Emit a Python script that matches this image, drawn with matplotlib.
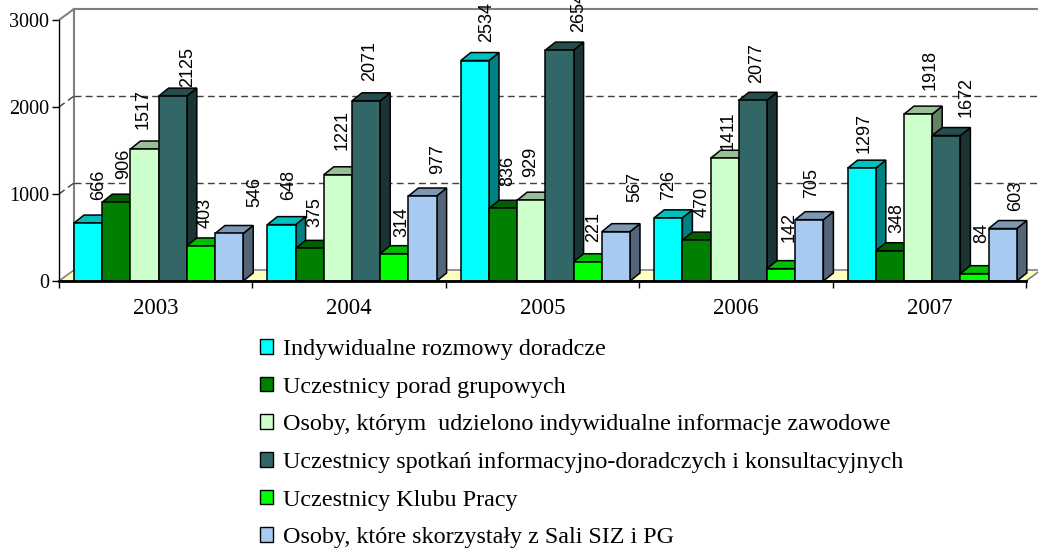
import matplotlib
matplotlib.use("Agg")
import matplotlib.pyplot as plt
from matplotlib.patches import Patch, Polygon

years = ["2003", "2004", "2005", "2006", "2007"]
series_names = [
    "Indywidualne rozmowy doradcze",
    "Uczestnicy porad grupowych",
    "Osoby, którym  udzielono indywidualne informacje zawodowe",
    "Uczestnicy spotkań informacyjno-doradczych i konsultacyjnych",
    "Uczestnicy Klubu Pracy",
    "Osoby, które skorzystały z Sali SIZ i PG",
]
rozmowy = [666, 648, 2534, 726, 1297]
porady = [906, 375, 836, 470, 348]
informacje = [1517, 1221, 929, 1411, 1918]
spotkania = [2125, 2071, 2654, 2077, 1672]
klub = [403, 314, 221, 142, 84]
sala = [546, 977, 567, 705, 603]
all_series = [rozmowy, porady, informacje, spotkania, klub, sala]

# front, top, side
colors = [
    ("#00FFFF", "#00BFBF", "#008080"),
    ("#008000", "#006000", "#004000"),
    ("#CCFFCC", "#99BF99", "#668066"),
    ("#336666", "#264D4D", "#1A3333"),
    ("#00FF00", "#00BF00", "#008000"),
    ("#A6CAF0", "#7D98B4", "#536578"),
]

# hand placed data labels, px relative to bar centre / above bar top
label_dx = [
    [11, 7, -1, 15, 4, 26],
    [7, 5, 4, 4, 8, 15],
    [12, 5, -1, 19, 6, 19],
    [0, 6, 3, 4, 8, 2],
    [2, 7, 12, 20, 7, 13],
]
label_gap = [
    [23, 23, 20, 9, 18, 26],
    [25, 21, 25, 20, 17, 22],
    [19, 22, 23, 18, 20, 30],
    [18, 23, 8, 17, 27, 22],
    [15, 18, 24, 19, 31, 18],
]

W, H = 1038, 552
fig = plt.figure(figsize=(W / 100, H / 100), dpi=100)
ax = fig.add_axes([59 / W, 1 - 281 / H, (1026 - 59) / W, (281 - 20) / H])
ax.set_xlim(0, 5)
ax.set_ylim(0, 3000)
ax.patch.set_visible(False)

# px to data units
ux = 5 / (1026 - 59)
uy = 3000 / (281 - 20)
wall_dx, wall_dy = 15 * ux, 11 * uy
bar_dx, bar_dy = 10 * ux, 8 * uy
bar_w = 28.2 * ux
gray = "#808080"

# floor and walls
ax.add_patch(Polygon([(0, 0), (5, 0), (5 + wall_dx, wall_dy), (wall_dx, wall_dy)],
                     facecolor="#FFFFC0", edgecolor=gray, lw=1.2, clip_on=False, zorder=1))
ax.plot([wall_dx, wall_dx], [wall_dy, 3000 + wall_dy], color=gray, lw=1.5, clip_on=False, zorder=2)
ax.plot([wall_dx, 5 + wall_dx], [3000 + wall_dy] * 2, color=gray, lw=1.5, clip_on=False, zorder=2)
ax.plot([0, wall_dx], [3000, 3000 + wall_dy], color=gray, lw=1.5, clip_on=False, zorder=2)
for v in [1000, 2000]:
    ax.plot([0, wall_dx], [v, v + wall_dy], color="#404040", lw=1, ls=(0, (5, 3)), clip_on=False, zorder=2)
    ax.plot([wall_dx, 5 + wall_dx], [v + wall_dy] * 2, color="#404040", lw=1, ls=(0, (5, 3)), clip_on=False, zorder=2)

z = 10
for g in range(len(years)):
    for s in range(len(all_series)):
        v = all_series[s][g]
        x0 = g + wall_dx + s * bar_w
        x1 = x0 + bar_w
        front, top, side = colors[s]
        ax.add_patch(Polygon([(x1, 0), (x1 + bar_dx, bar_dy), (x1 + bar_dx, v + bar_dy), (x1, v)],
                             facecolor=side, edgecolor="black", lw=1.1, clip_on=False, zorder=z))
        ax.add_patch(Polygon([(x0, v), (x1, v), (x1 + bar_dx, v + bar_dy), (x0 + bar_dx, v + bar_dy)],
                             facecolor=top, edgecolor="black", lw=1.1, clip_on=False, zorder=z))
        ax.bar(x0, v, width=bar_w, align="edge", color=front, edgecolor="black", lw=1.1, zorder=z + 0.5)
        z += 1
        # labels sit behind the bars, over the wall
        ax.text(x0 + bar_w / 2 + label_dx[g][s] * ux, v + label_gap[g][s] * uy, str(v), rotation=90,
                ha="center", va="bottom", family="Liberation Sans", fontsize=13, color="black", zorder=5)

ax.set_xticks(range(6))
ax.set_xticklabels([])
for g in range(len(years)):
    ax.text(g + 0.5, -28 * uy, years[g], ha="center", va="center", family="Liberation Serif", fontsize=16.5)
ax.set_yticks([0, 1000, 2000, 3000])
ax.set_yticklabels(["0", "1000", "2000", "3000"], family="Liberation Serif", fontsize=14.5)
ax.tick_params(axis="both", length=5, width=1, color="black", pad=2)
ax.spines["top"].set_visible(False)
ax.spines["right"].set_visible(False)
ax.spines["left"].set_linewidth(1)
ax.spines["bottom"].set_linewidth(2)
ax.spines["bottom"].set_zorder(200)

handles = [Patch(facecolor=colors[i][0], edgecolor="black", lw=1) for i in range(len(series_names))]
fig.legend(handles, series_names, loc="upper left", bbox_to_anchor=(260 / W, 1 - 339 / H),
           frameon=False, prop={"family": "Liberation Serif", "size": 17.35}, handlelength=0.55,
           handleheight=0.55, handletextpad=0.42, labelspacing=0.69, borderpad=0, borderaxespad=0)

fig.savefig("out.png", dpi=100)
